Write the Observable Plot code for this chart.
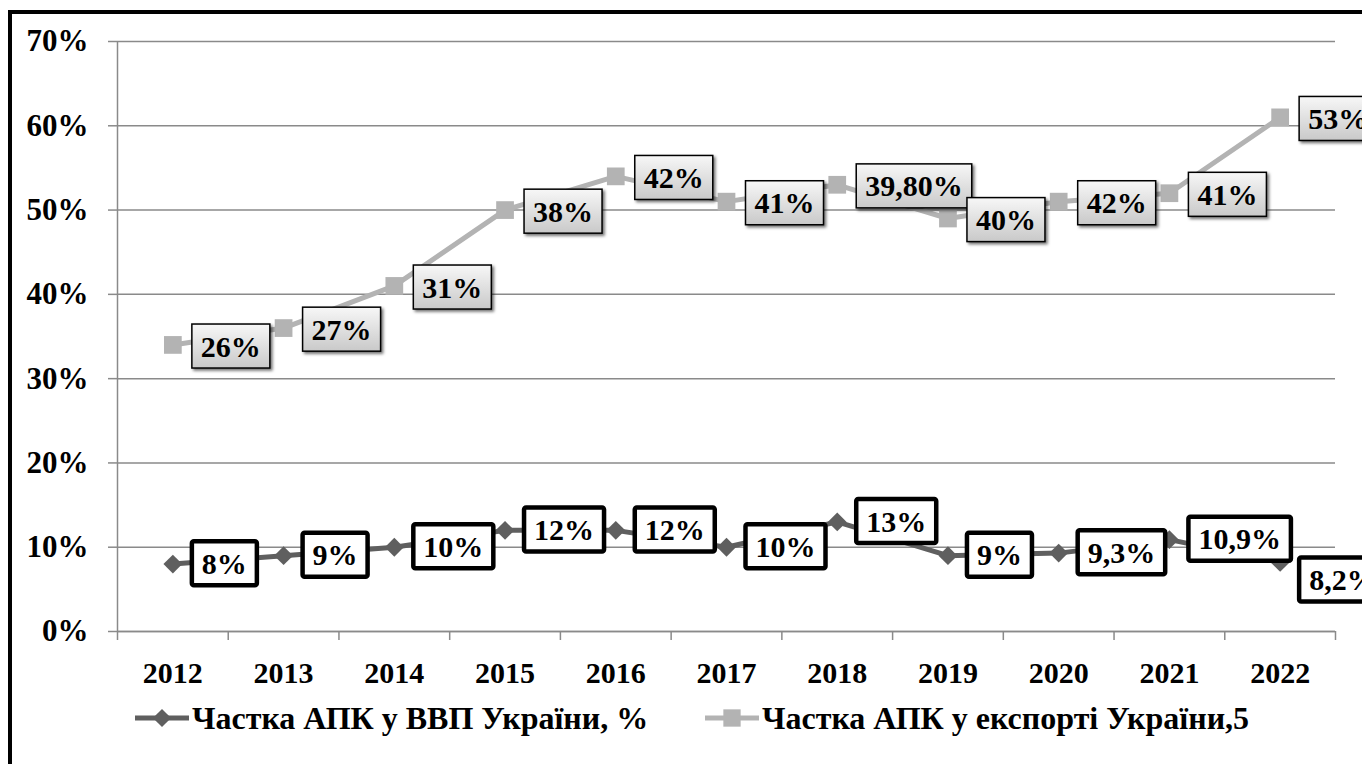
<!DOCTYPE html>
<html><head><meta charset="utf-8">
<script src="https://cdn.jsdelivr.net/npm/d3@7"></script>
<script src="https://cdn.jsdelivr.net/npm/@observablehq/plot@0.6"></script>
<style>
html,body{margin:0;padding:0;background:#fff;overflow:hidden;width:1362px;height:764px;}
#wrap{position:relative;width:1362px;height:764px;overflow:hidden;}
#frame{position:absolute;left:8px;top:10px;width:2000px;height:2000px;border:4px solid #000;box-sizing:border-box;}
#chart{position:absolute;left:0;top:0;}
.leg{position:absolute;top:700px;height:36px;display:flex;align-items:center;font-family:"Liberation Serif","Times New Roman",serif;font-weight:bold;font-size:32px;color:#000;white-space:nowrap;}
</style></head>
<body><div id="wrap"><div id="frame"></div><div id="chart"></div></div>
<script>
const years = [2012,2013,2014,2015,2016,2017,2018,2019,2020,2021,2022];
const exportShare = [34,36,41,50,54,51,53,49,51,52,61];
const gdpShare = [8,9,10,12,12,10,13,9,9.3,10.9,8.2];
const exportLabels = ["26%","27%","31%","38%","42%","41%","39,80%","40%","42%","41%","53%"];
const gdpLabels = ["8%","9%","10%","12%","12%","10%","13%","9%","9,3%","10,9%","8,2%"];
const yTicks = [0,10,20,30,40,50,60,70];
const seriesNames = ["Частка АПК у ВВП України, %","Частка АПК у експорті України,5"];

const exp = years.map((y,i)=>({year:y, v:exportShare[i], label:exportLabels[i]}));
const gdp = years.map((y,i)=>({year:y, v:gdpShare[i], label:gdpLabels[i]}));
const bounds = [...years.map(y=>y-0.5), years[years.length-1]+0.5];

const gridColor = "#8a8a8a";
const expColor = "#b3b3b3";
const gdpColor = "#5f5f5f";
const fam = '"Liberation Serif","Times New Roman",serif';

const plot = Plot.plot({
  width: 1362, height: 700,
  marginLeft: 117, marginRight: 27, marginTop: 41, marginBottom: 69,
  style: {fontFamily: fam, fontWeight: "bold", fontSize: "30px", background: "transparent", overflow: "visible", color: "#000"},
  x: {type: "linear", domain: [bounds[0], bounds[bounds.length-1]], label: null},
  y: {domain: [0,70], label: null},
  marks: [
    Plot.gridY(yTicks, {stroke: gridColor, strokeOpacity: 1, strokeWidth: 1.5}),
    Plot.axisY(yTicks, {label: null, tickSize: 9, tickPadding: 20, stroke: gridColor, strokeWidth: 1.5, tickFormat: d => d + "%", fontSize: 31, fontWeight: "bold", fontFamily: fam, fill: "#000"}),
    Plot.ruleX([bounds[0]], {stroke: gridColor, strokeWidth: 1.5}),
    Plot.ruleY([0], {stroke: gridColor, strokeWidth: 1.5}),
    Plot.axisX(bounds, {label: null, tickSize: 9, tickFormat: () => "", stroke: gridColor, strokeWidth: 1.5}),
    Plot.axisX(years, {label: null, tickSize: 0, tickPadding: 30, tickFormat: d => String(d), fontSize: 30, fontWeight: "bold", fontFamily: fam, fill: "#000"}),
    Plot.line(exp, {x: "year", y: "v", stroke: expColor, strokeWidth: 5}),
    Plot.dot(exp, {x: "year", y: "v", symbol: "square", r: 10, fill: expColor, stroke: "none"}),
    Plot.line(gdp, {x: "year", y: "v", stroke: gdpColor, strokeWidth: 5}),
    Plot.dot(gdp, {x: "year", y: "v", symbol: "diamond2", r: 8.5, fill: gdpColor, stroke: "none"}),
    Plot.text(exp, {x: "year", y: "v", text: "label", textAnchor: "start", dx: 28, dy: 2, fontSize: 30, fontWeight: "bold", fontFamily: fam, fill: "#000", ariaDescription: "explab"}),
    Plot.text(gdp.slice(0, -1), {x: "year", y: "v", text: "label", textAnchor: "start", dx: 29, dy: 0, fontSize: 30, fontWeight: "bold", fontFamily: fam, fill: "#000", ariaDescription: "gdplab"}),
    Plot.text(gdp.slice(-1), {x: "year", y: "v", text: "label", textAnchor: "start", dx: 29, dy: 18, fontSize: 30, fontWeight: "bold", fontFamily: fam, fill: "#000", ariaDescription: "gdplab"})
  ]
});
document.getElementById("chart").appendChild(plot);

const ns = "http://www.w3.org/2000/svg";
const defs = document.createElementNS(ns, "defs");
defs.innerHTML = '<linearGradient id="boxgrad" x1="0" y1="0" x2="0" y2="1"><stop offset="0" stop-color="#f7f7f7"/><stop offset="1" stop-color="#c9c9c9"/></linearGradient>';
plot.insertBefore(defs, plot.firstChild);

function boxes(label, opts) {
  plot.querySelectorAll(`g[aria-description="${label}"] text`).forEach(t => {
    const b = t.getBBox();
    const r = document.createElementNS(ns, "rect");
    r.setAttribute("x", b.x - opts.px);
    r.setAttribute("y", b.y + b.height/2 - opts.h/2);
    r.setAttribute("width", b.width + 2*opts.px);
    r.setAttribute("height", opts.h);
    r.setAttribute("fill", opts.fill);
    r.setAttribute("stroke", "#000");
    r.setAttribute("stroke-width", opts.sw);
    if (opts.rx) r.setAttribute("rx", opts.rx);
    if (opts.shadow) r.setAttribute("style", "filter: drop-shadow(2px 2px 1.5px rgba(0,0,0,0.55))");
    const tr = t.getAttribute("transform");
    if (tr) r.setAttribute("transform", tr);
    t.parentNode.insertBefore(r, t);
  });
}
boxes("explab", {px: 9, h: 44, fill: "url(#boxgrad)", sw: 1.5, shadow: true});
boxes("gdplab", {px: 10, h: 44, fill: "#fff", sw: 4.5, rx: 2});

function legend(left, symbol, color, text) {
  const d = document.createElement("div");
  d.className = "leg";
  d.style.left = left + "px";
  const s = d3.create("svg").attr("width", 58).attr("height", 30).style("margin-right", "1px");
  s.append("line").attr("x1", 2).attr("x2", 56).attr("y1", 15).attr("y2", 15).attr("stroke", color).attr("stroke-width", 5);
  s.append("path").attr("transform", "translate(29,15)").attr("fill", color)
    .attr("d", d3.symbol(symbol === "square" ? d3.symbolSquare : d3.symbolDiamond2, symbol === "square" ? 300 : 210)());
  d.appendChild(s.node());
  const sp = document.createElement("span");
  sp.textContent = text;
  d.appendChild(sp);
  document.getElementById("wrap").appendChild(d);
}
legend(133, "diamond", gdpColor, seriesNames[0]);
legend(703, "square", expColor, seriesNames[1]);
</script></body></html>
